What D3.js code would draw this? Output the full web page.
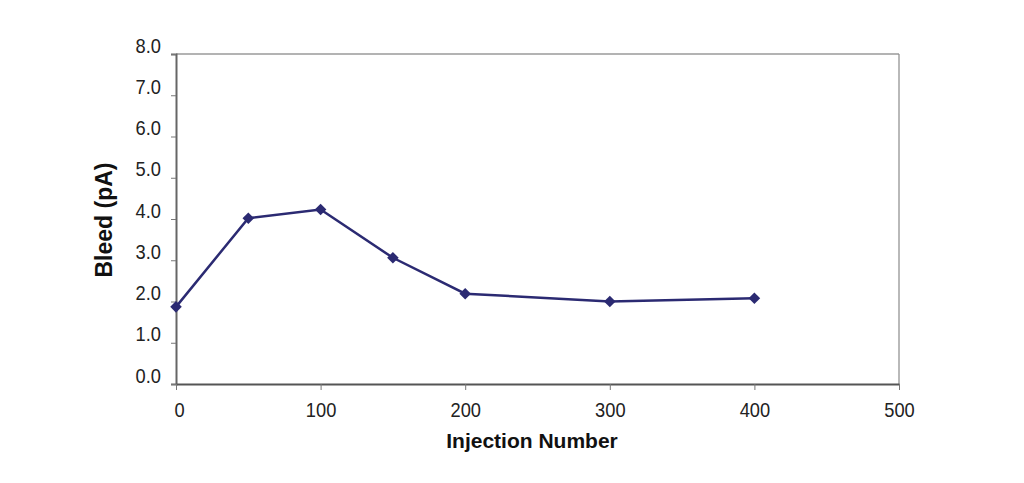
<!DOCTYPE html>
<html><head><meta charset="utf-8">
<script src="https://cdn.jsdelivr.net/npm/d3@7"></script>
<style>
html,body{margin:0;padding:0;background:#fff;}
svg{display:block;}
text{font-family:"Liberation Sans",Arial,sans-serif;}
</style></head><body>
<svg id="c" width="1024" height="483"></svg>
<script>
const injections = [0, 50, 100, 150, 200, 300, 400];
const bleed = [1.87, 4.02, 4.23, 3.06, 2.19, 2.00, 2.08];
const xTicks = [0, 100, 200, 300, 400, 500];
const yTicks = [0, 1, 2, 3, 4, 5, 6, 7, 8];
const xTitle = "Injection Number";
const yTitle = "Bleed (pA)";

const svg = d3.select("#c");
const L = 176, R = 899, T = 54, B = 384;
const x = d3.scaleLinear().domain([0, 500]).range([L, R]);
const y = d3.scaleLinear().domain([0, 8]).range([B, T]);
const SX = 0.87;

// frame: top & right lighter
svg.append("line").attr("x1", L).attr("x2", R).attr("y1", T).attr("y2", T).attr("stroke", "#9a9a9a").attr("stroke-width", 1.5);
svg.append("line").attr("x1", R).attr("x2", R).attr("y1", T).attr("y2", B).attr("stroke", "#8a8a8a").attr("stroke-width", 1.2);

// y axis
const yAxis = d3.axisLeft(y).tickValues(yTicks).tickSize(5).tickFormat(d3.format(".1f"));
const gy = svg.append("g").attr("transform", `translate(${L},0)`).call(yAxis);
gy.select(".domain").attr("stroke", "#666").attr("stroke-width", 2);
gy.selectAll(".tick line").attr("stroke", "#777");
gy.selectAll(".tick text").attr("font-size", 21).attr("fill", "#222")
  .attr("x", -15 / SX).attr("dy", -2).attr("transform", `scale(${SX},1)`)
  .attr("font-family", "'Liberation Sans',Arial,sans-serif");

// x axis
const xAxis = d3.axisBottom(x).tickValues(xTicks).tickSize(6).tickSizeOuter(0).tickFormat(d3.format("d"));
const gx = svg.append("g").attr("transform", `translate(0,${B})`).call(xAxis);
gx.select(".domain").attr("stroke", "#555").attr("stroke-width", 2);
gx.selectAll(".tick line").attr("stroke", "#777");
gx.selectAll(".tick text").attr("font-size", 21).attr("fill", "#222").attr("y", 33).attr("dy", 0)
  .attr("transform", `scale(${SX},1)`)
  .attr("font-family", "'Liberation Sans',Arial,sans-serif");
gx.selectAll(".tick").filter(d => d === 0).select("text").attr("x", 3 / SX);

// titles
svg.append("text").attr("x", 532).attr("y", 448).attr("text-anchor", "middle")
  .attr("font-size", 21).attr("font-weight", "bold").attr("fill", "#111").text(xTitle);
svg.append("text").attr("transform", `translate(112,220) rotate(-90)`).attr("text-anchor", "middle")
  .attr("font-size", 23).attr("font-weight", "bold").attr("fill", "#111").text(yTitle);

// line
const data = injections.map((d, i) => ({x: d, y: bleed[i]}));
const col = "#2b2a72";
svg.append("path").datum(data).attr("fill", "none").attr("stroke", col).attr("stroke-width", 2.5)
  .attr("d", d3.line().x(d => x(d.x)).y(d => y(d.y)));
svg.selectAll(".pt").data(data).enter().append("path").attr("class", "pt")
  .attr("transform", d => `translate(${x(d.x)},${y(d.y)})`)
  .attr("d", d3.symbol(d3.symbolDiamond2, 85)).attr("fill", col);
</script>
</body></html>
